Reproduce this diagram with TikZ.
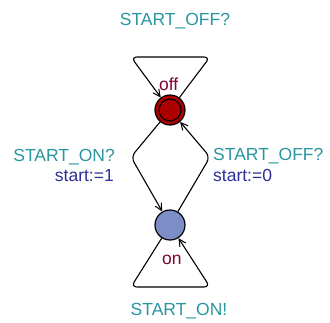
\documentclass[tikz,border=0pt]{standalone}
\usepackage{fontspec}
\setmainfont{Liberation Sans}
\usetikzlibrary{arrows.meta}
\definecolor{synccol}{RGB}{40,150,160}
\definecolor{assigncol}{RGB}{45,45,150}
\definecolor{namecol}{RGB}{130,0,50}
\definecolor{offfill}{RGB}{172,0,0}
\definecolor{onfill}{RGB}{125,142,198}
\tikzset{
  loc/.style={circle, draw=black, line width=1.2pt, minimum size=30pt, inner sep=0pt},
  edge/.style={draw=black, line width=1.1pt, rounded corners=6pt, -{Straight Barb[length=7pt,width=7pt,line width=1pt]}},
  lbl/.style={font=\fontsize{17.5}{19}\selectfont, inner sep=0pt, anchor=base west},
  sync/.style={lbl, text=synccol},
  assign/.style={lbl, text=assigncol},
  lname/.style={lbl, text=namecol},
}
\begin{document}
\begin{tikzpicture}[x=1pt, y=-1pt]
\useasboundingbox (0,0) rectangle (330,322);
% locations
\node[loc, fill=offfill] (off) at (170,110) {};
\node[circle, draw=black, line width=1.1pt, minimum size=22pt, inner sep=0pt] (offin) at (off) {};
\node[loc, fill=onfill] (on) at (170,225) {};
% self loop on off
\draw[edge] (off) -- (210,57) -- (131,57) -- (off);
% off -> on
\draw[edge] (off) -- (131,157) -- (on);
% on -> off
\draw[edge] (on) -- (210,157) -- (off);
% self loop on on
\draw[edge] (on) -- (131,287) -- (210,287) -- (on);
% labels
\node[lname] (offname) at (159,90) {off};
\node[lname] (onname) at (162,264) {on};
\node[sync, anchor=base] (s1) at (175,25.5) {START\_OFF?};
\node[sync, anchor=base east] (s2) at (115,161.5) {START\_ON?};
\node[assign, anchor=base east] (a2) at (114,181.5) {start:=1};
\node[sync] (s3) at (213,160) {START\_OFF?};
\node[assign] (a3) at (213,181.5) {start:=0};
\node[sync, anchor=base] (s4) at (179,315) {START\_ON!};
\end{tikzpicture}
\end{document}
